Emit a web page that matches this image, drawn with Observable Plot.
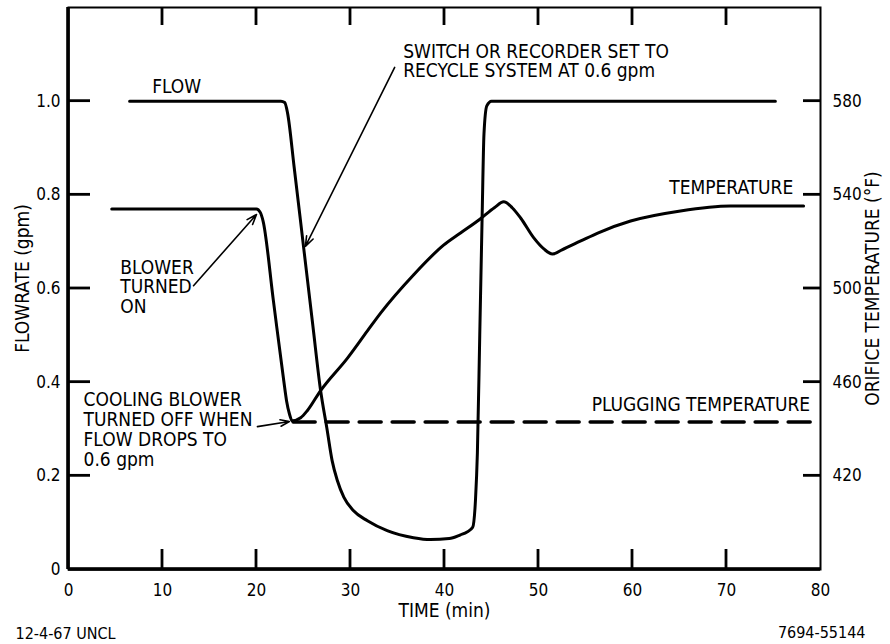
<!DOCTYPE html>
<html>
<head>
<meta charset="utf-8">
<script src="https://cdn.jsdelivr.net/npm/d3@7"></script>
<script src="https://cdn.jsdelivr.net/npm/@observablehq/plot@0.6"></script>
<style>
  html, body { margin: 0; padding: 0; background: #fff; }
  #chart svg { display: block; }
</style>
</head>
<body>
<div id="chart"></div>
<script>
// ---- Data ----
// FLOW curve: time (min) -> flowrate (gpm)
const flowTime = [6.5, 22.6, 23.0, 23.3, 24.0, 25.0, 26.0, 26.8, 27.5, 28.05, 28.6, 29.3, 30.3, 31.8, 33.9, 36.7, 38.5, 40.5, 41.7, 42.4, 43.0, 43.3, 43.5, 43.75, 44.0, 44.2, 44.5, 45.0, 75.2];
const flowRate = [1.0, 1.0, 0.997, 0.975, 0.86, 0.69, 0.52, 0.385, 0.30, 0.232, 0.19, 0.154, 0.126, 0.104, 0.083, 0.068, 0.064, 0.066, 0.074, 0.08, 0.09, 0.15, 0.25, 0.5, 0.75, 0.93, 0.99, 1.0, 1.0];

// TEMPERATURE curve: time (min) -> orifice temperature (°F)
const tempTime = [4.6, 20.0, 20.4, 20.7, 21.8, 22.9, 23.2, 23.5, 23.8, 24.7, 25.4, 26.8, 29.7, 31.8, 33.2, 36.7, 39.9, 41.7, 43.8, 45.3, 46.3, 47.2, 48.1, 49.5, 50.6, 51.5, 52.5, 54.5, 56.3, 59.8, 65.1, 70.4, 78.2];
const tempValue = [534, 534, 532.5, 528.8, 494.7, 460.6, 452, 446.5, 443.5, 444.8, 447.8, 456.3, 470.4, 481.9, 489.5, 505.8, 518.5, 523.7, 529.7, 534.5, 537, 534.5, 530.1, 521.6, 516.8, 514.7, 516.5, 520.3, 523.7, 528.8, 533.1, 535.2, 535.2];

// Plugging temperature (°F), dashed reference line
const plugTime = [23.9, 80];
const plugTemp = 443;

// Axis ticks
const xTickLabels = [0, 10, 20, 30, 40, 50, 60, 70, 80];
const xTickMarks = [10, 20, 30, 40, 50, 60, 70];
const flowTickLabels = [0, 0.2, 0.4, 0.6, 0.8, 1.0];
const flowTickMarks = [0.2, 0.4, 0.6, 0.8, 1.0];
const tempTicks = [420, 460, 500, 540, 580];

// Secondary axis: temperature -> flowrate-axis position (380 °F at 0, 580 °F at 1.0)
const tempBase = 380, tempPerUnit = 200;
const t2f = (t) => (t - tempBase) / tempPerUnit;

const flowData = flowTime.map((t, i) => ({t, v: flowRate[i]}));
const tempData = tempTime.map((t, i) => ({t, v: t2f(tempValue[i])}));
const plugData = plugTime.map(t => ({t, v: t2f(plugTemp)}));

const FONT = "'DejaVu Sans Condensed', 'Liberation Sans Narrow', 'Arial Narrow', sans-serif";
const fs = 19;    // annotation text
const fsTick = 17; // tick labels

const plotW = 890, plotH = 644, mL = 68, mR = 70, mT = 7, mB = 75;
const frameW = plotW - mL - mR, frameH = plotH - mT - mB;
const xDom = [0, 80], yDom = [0, 1.2];
// pixel -> scale-unit conversion for tick lengths / widths
const unitX = (xDom[1] - xDom[0]) / frameW, unitY = (yDom[1] - yDom[0]) / frameH;
const tw = 1.4; // half tick width, px

// inward ticks as thin filled rectangles
const tickRects = [
  ...xTickMarks.map(v => ({x1: v - tw * unitX, x2: v + tw * unitX, y1: yDom[0], y2: yDom[0] + 20 * unitY})),
  ...xTickMarks.map(v => ({x1: v - tw * unitX, x2: v + tw * unitX, y1: yDom[1] - 18 * unitY, y2: yDom[1]})),
  ...flowTickMarks.map(v => ({x1: xDom[0], x2: xDom[0] + 22 * unitX, y1: v - tw * unitY, y2: v + tw * unitY})),
  ...tempTicks.map(t => ({x1: xDom[1] - 17 * unitX, x2: xDom[1], y1: t2f(t) - tw * unitY, y2: t2f(t) + tw * unitY}))
];
// heavier left and bottom edges
const edgeRects = [
  {x1: xDom[0] - 1.8 * unitX, x2: xDom[0] + 1.8 * unitX, y1: yDom[0], y2: yDom[1]},
  {x1: xDom[0], x2: xDom[1], y1: yDom[0] - 1.8 * unitY, y2: yDom[0] + 1.8 * unitY}
];

const chart = Plot.plot({
  width: plotW,
  height: plotH,
  marginLeft: mL,
  marginRight: mR,
  marginTop: mT,
  marginBottom: mB,
  x: {domain: xDom},
  y: {domain: yDom},
  style: {fontFamily: FONT, fontSize: fs + "px", background: "#fff", color: "#000"},
  marks: [
    Plot.frame({stroke: "#000", strokeWidth: 2}),
    Plot.rect(edgeRects, {x1: "x1", x2: "x2", y1: "y1", y2: "y2", fill: "#000"}),
    Plot.rect(tickRects, {x1: "x1", x2: "x2", y1: "y1", y2: "y2", fill: "#000"}),

    // tick labels
    Plot.axisX(xTickLabels, {anchor: "bottom", tickSize: 0, tickPadding: 14, label: null, fontSize: fsTick}),
    Plot.axisY(flowTickLabels, {anchor: "left", tickSize: 0, tickPadding: 8, label: null, fontSize: fsTick,
      tickFormat: d => d === 0 ? "0" : d.toFixed(1)}),
    Plot.axisY(tempTicks.map(t2f), {anchor: "right", tickSize: 0, tickPadding: 12, label: null, fontSize: fsTick,
      tickFormat: d => String(Math.round(tempBase + tempPerUnit * d))}),

    // curves
    Plot.line(flowData, {x: "t", y: "v", stroke: "#000", strokeWidth: 3, curve: "monotone-x", strokeLinejoin: "round"}),
    Plot.line(tempData, {x: "t", y: "v", stroke: "#000", strokeWidth: 3, curve: "monotone-x", strokeLinejoin: "round"}),
    Plot.line(plugData, {x: "t", y: "v", stroke: "#000", strokeWidth: 3.5, strokeDasharray: "22,11"}),

    // annotation arrows
    Plot.arrow([{x1: 34.7, y1: 1.072, x2: 25.2, y2: 0.69}], {x1: "x1", y1: "y1", x2: "x2", y2: "y2", stroke: "#000", strokeWidth: 1.6, headLength: 10, headAngle: 40}),
    Plot.arrow([{x1: 13.3, y1: 0.606, x2: 20.0, y2: 0.758}], {x1: "x1", y1: "y1", x2: "x2", y2: "y2", stroke: "#000", strokeWidth: 1.6, headLength: 10, headAngle: 40}),
    Plot.arrow([{x1: 20.1, y1: 0.305, x2: 23.5, y2: 0.316}], {x1: "x1", y1: "y1", x2: "x2", y2: "y2", stroke: "#000", strokeWidth: 1.6, headLength: 9, headAngle: 40}),

    // annotations
    Plot.text(["FLOW"], {x: 8.9, y: 1.017, textAnchor: "start", lineAnchor: "bottom", fontSize: fs}),
    Plot.text(["SWITCH OR RECORDER SET TO\nRECYCLE SYSTEM AT 0.6 gpm"], {x: 35.6, y: 1.051, textAnchor: "start", lineAnchor: "bottom", lineHeight: 1.02, fontSize: fs}),
    Plot.text(["TEMPERATURE"], {x: 77.1, y: 0.802, textAnchor: "end", lineAnchor: "bottom", fontSize: fs}),
    Plot.text(["BLOWER\nTURNED\nON"], {x: 5.5, y: 0.548, textAnchor: "start", lineAnchor: "bottom", lineHeight: 1.03, fontSize: fs}),
    Plot.text(["COOLING BLOWER\nTURNED OFF WHEN\nFLOW DROPS TO\n0.6 gpm"], {x: 1.6, y: 0.222, textAnchor: "start", lineAnchor: "bottom", lineHeight: 1.05, fontSize: fs}),
    Plot.text(["PLUGGING TEMPERATURE"], {x: 78.9, y: 0.339, textAnchor: "end", lineAnchor: "bottom", fontSize: fs}),

    // axis titles
    Plot.text(["TIME (min)"], {frameAnchor: "bottom", dy: 47, textAnchor: "middle", lineAnchor: "bottom", fontSize: fs}),
    Plot.text(["FLOWRATE (gpm)"], {frameAnchor: "left", dx: -46, dy: -10, textAnchor: "middle", rotate: -90, fontSize: fs}),
    Plot.text(["ORIFICE TEMPERATURE (°F)"], {frameAnchor: "right", dx: 52, dy: 0, textAnchor: "middle", rotate: -90, fontSize: fs}),

    // footer notes
    Plot.text(["12-4-67 UNCL"], {frameAnchor: "bottom-left", dx: -53, dy: 69, textAnchor: "start", lineAnchor: "bottom", fontSize: 16}),
    Plot.text(["7694-55144"], {frameAnchor: "bottom-right", dx: 45, dy: 68, textAnchor: "end", lineAnchor: "bottom", fontSize: 16})
  ]
});

document.getElementById("chart").appendChild(chart);
</script>
</body>
</html>
